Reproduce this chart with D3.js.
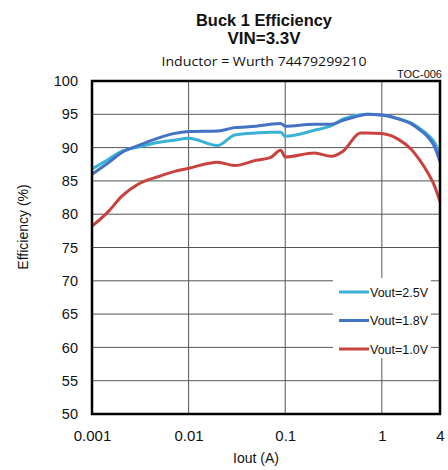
<!DOCTYPE html>
<html lang="en">
<head>
<meta charset="UTF-8">
<title>Buck 1 Efficiency</title>
<script src="https://d3js.org/d3.v7.min.js"></script>
<style>
  body { margin: 0; background: #fff; }
  text { font-family: "Liberation Sans", Arial, sans-serif; fill: #111; }
</style>
</head>
<body>
<script>
// output current (A), shared by all three curves
const iout = [0.001, 0.0015, 0.002, 0.003, 0.005, 0.007, 0.01, 0.02, 0.03, 0.05, 0.07, 0.09, 0.1,
              0.2, 0.3, 0.4, 0.6, 0.7, 1, 1.5, 2, 2.5, 3, 3.5, 4];
// efficiency (%)
const eff25 = [86.8, 88.3, 89.4, 90.1, 90.8, 91.1, 91.4, 90.3, 91.9, 92.2, 92.3, 92.3, 91.7,
               92.6, 93.3, 94.3, 94.9, 95.0, 94.9, 94.3, 93.7, 92.8, 91.9, 90.8, 89.1];
const eff18 = [86.0, 87.8, 89.2, 90.3, 91.5, 92.1, 92.4, 92.5, 93.0, 93.2, 93.5, 93.6, 93.2,
               93.5, 93.5, 94.1, 94.8, 95.0, 94.9, 94.3, 93.6, 92.6, 91.6, 90.2, 87.9];
const eff10 = [78.2, 80.5, 82.6, 84.5, 85.7, 86.4, 86.9, 87.8, 87.3, 88.1, 88.5, 89.6, 88.6,
               89.2, 88.7, 89.5, 92.2, 92.2, 92.1, 91.2, 89.8, 88.0, 86.2, 84.3, 81.9];

const seriesNames = ['Vout=2.5V', 'Vout=1.8V', 'Vout=1.0V'];
const seriesValues = [eff25, eff18, eff10];
const colors = ['#3AB2D6', '#4472C4', '#C8423F'];

const xTicks = [0.001, 0.01, 0.1, 1, 4];
const yTicks = d3.range(50, 101, 5);

let width = 448, height = 470;
let m = { left: 92, right: 8, top: 81, bottom: 56 };

const svg = d3.select('body').append('svg').attr('width', width).attr('height', height);

const x = d3.scaleLog().domain([0.001, 4]).range([m.left, width - m.right]);
const y = d3.scaleLinear().domain([50, 100]).range([height - m.bottom, m.top]);

// titles
const titles = svg.append('g').attr('text-anchor', 'middle');
titles.append('text').attr('x', 264).attr('y', 26)
  .style('font-size', '16px').style('font-weight', 'bold')
  .attr('textLength', 136).attr('lengthAdjust', 'spacingAndGlyphs')
  .text('Buck 1 Efficiency');
titles.append('text').attr('x', 264).attr('y', 44)
  .style('font-size', '16px').style('font-weight', 'bold')
  .attr('textLength', 73).attr('lengthAdjust', 'spacingAndGlyphs')
  .text('VIN=3.3V');
titles.append('text').attr('x', 264).attr('y', 66)
  .style('font-family', '"Open Sans", "Noto Sans", sans-serif')
  .style('font-size', '13.5px')
  .attr('textLength', 205).attr('lengthAdjust', 'spacingAndGlyphs')
  .text('Inductor = Wurth 74479299210');
svg.append('text').attr('x', 442).attr('y', 78).attr('text-anchor', 'end')
  .style('font-size', '11px').text('TOC-006');

// grid
const grid = svg.append('g').attr('stroke', '#555').attr('stroke-width', 1);
grid.selectAll('line.h').data(yTicks.slice(1, -1)).join('line').attr('class', 'h')
  .attr('x1', x.range()[0]).attr('x2', x.range()[1])
  .attr('y1', d => y(d)).attr('y2', d => y(d));
grid.selectAll('line.v').data(xTicks.slice(1, -1)).join('line').attr('class', 'v')
  .attr('x1', d => x(d)).attr('x2', d => x(d))
  .attr('y1', y.range()[1]).attr('y2', y.range()[0]);

// axes labels
const yAxis = svg.append('g').attr('transform', `translate(${m.left - 6},0)`)
  .call(d3.axisLeft(y).tickValues(yTicks).tickSize(0).tickPadding(8));
yAxis.select('.domain').remove();
yAxis.selectAll('text').style('font-size', '14.5px').style('fill', '#111');

const xAxis = svg.append('g').attr('transform', `translate(0,${height - m.bottom + 8})`)
  .call(d3.axisBottom(x).tickValues(xTicks).tickFormat(d3.format('~g')).tickSize(0).tickPadding(8));
xAxis.select('.domain').remove();
xAxis.selectAll('text').style('font-size', '15px').style('fill', '#111');

svg.append('text').attr('x', 256).attr('y', 463).attr('text-anchor', 'middle')
  .style('font-size', '14px').text('Iout (A)');
svg.append('text').attr('transform', 'translate(28,227) rotate(-90)').attr('text-anchor', 'middle')
  .style('font-size', '14px').text('Efficiency (%)');

// legend background (covers grid)
const legend = svg.append('g');
legend.append('rect').attr('x', 333).attr('y', 278).attr('width', 98).attr('height', 80).attr('fill', '#fff');

// curves
const line = d3.line().x((d, i) => x(iout[i])).y(d => y(d)).curve(d3.curveMonotoneX);
svg.append('g').selectAll('path').data(seriesValues).join('path')
  .attr('d', line).attr('fill', 'none')
  .attr('stroke', (d, i) => colors[i]).attr('stroke-width', 3)
  .attr('stroke-linejoin', 'round');

// legend entries
const entries = legend.selectAll('g.e').data(seriesNames).join('g').attr('class', 'e')
  .attr('transform', (d, i) => `translate(339,${292 + i * 28.5})`);
entries.append('line').attr('x1', 0).attr('x2', 30).attr('y1', 0).attr('y2', 0)
  .attr('stroke', (d, i) => colors[i]).attr('stroke-width', 3);
entries.append('text').attr('x', 31).attr('y', 4.5).style('font-size', '12.5px').text(d => d);

// frame
svg.append('rect').attr('x', x.range()[0]).attr('y', y.range()[1])
  .attr('width', x.range()[1] - x.range()[0]).attr('height', y.range()[0] - y.range()[1])
  .attr('fill', 'none').attr('stroke', '#000').attr('stroke-width', 2.5);
</script>
</body>
</html>
